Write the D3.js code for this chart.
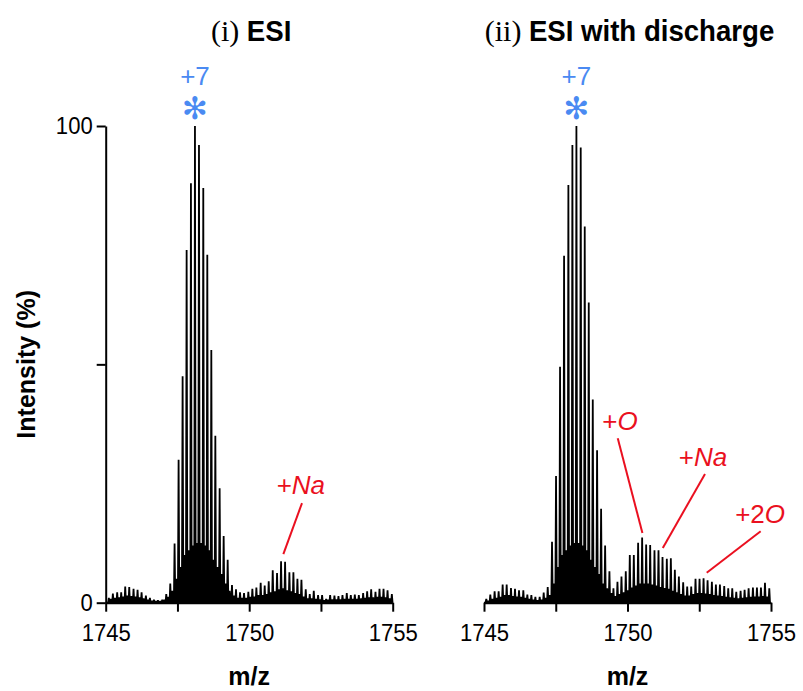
<!DOCTYPE html>
<html><head><meta charset="utf-8">
<script src="https://cdn.jsdelivr.net/npm/d3@7"></script>
<style>
html,body{margin:0;padding:0;background:#fff;}
svg{display:block;font-family:"Liberation Sans",Arial,Helvetica,sans-serif;}
</style></head><body>
<svg id="chart" width="803" height="691"></svg>
<script>
// ---------------- DATA ----------------
const panelPrefixes = ["(i)", "(ii)"];
const panelTitles = ["ESI", "ESI with discharge"];
const chargeLabel = "+7";
const peakMarker = "\u273B";
const xTicks = [1745, 1747.5, 1750, 1752.5, 1755];
const xTickLabels = ["1745", "", "1750", "", "1755"];
const yTicks = [0, 50, 100];
const yTickLabels = ["0", "", "100"];
const xTitle = "m/z";
const yTitle = "Intensity (%)";

// panel (i) ESI : m/z of isotope peaks (1/7 spacing) and the weaker peaks lying between them
const esiMz = [
1745.11,1745.18,1745.25,1745.32,1745.40,1745.47,1745.54,1745.61,1745.68,1745.75,1745.82,1745.90,1745.97,1746.04,
1746.11,1746.18,1746.25,1746.32,1746.40,1746.47,1746.54,1746.61,1746.68,1746.75,1746.82,1746.90,1746.97,1747.04,
1747.11,1747.18,1747.25,1747.32,1747.40,1747.47,1747.54,1747.61,1747.68,1747.75,1747.82,1747.90,1747.97,1748.04,
1748.11,1748.18,1748.25,1748.32,1748.40,1748.47,1748.54,1748.61,1748.68,1748.75,1748.82,1748.90,1748.97,1749.04,
1749.11,1749.18,1749.25,1749.32,1749.40,1749.47,1749.54,1749.61,1749.68,1749.75,1749.82,1749.90,1749.97,1750.04,
1750.11,1750.18,1750.25,1750.32,1750.40,1750.47,1750.54,1750.61,1750.68,1750.75,1750.82,1750.90,1750.97,1751.04,
1751.11,1751.18,1751.25,1751.32,1751.40,1751.47,1751.54,1751.61,1751.68,1751.75,1751.82,1751.90,1751.97,1752.04,
1752.11,1752.18,1752.25,1752.32,1752.40,1752.47,1752.54,1752.61,1752.68,1752.75,1752.82,1752.90,1752.97,1753.04,
1753.11,1753.18,1753.25,1753.32,1753.40,1753.47,1753.54,1753.61,1753.68,1753.75,1753.82,1753.90,1753.97,1754.04,
1754.11,1754.18,1754.25,1754.32,1754.40,1754.47,1754.54,1754.61,1754.68,1754.75,1754.82,1754.90,1754.97];
const esiIntensity = [
1.0,0.8, 1.9,1.0, 2.2,1.1, 2.2,1.3, 3.4,1.5, 3.3,1.4, 2.9,1.3, 2.7,1.1, 2.2,0.9, 1.5,0.6,
1.0,0.4, 0.6,0.3, 0.5,0.3, 0.6,0.6, 1.8,1.2, 4.0,2.5, 12.4,5, 30,7.5, 47.5,10, 74,11,
88,12, 100,12.5, 96,12.5, 87,12, 73,11, 53,9, 35,7.5, 24,6, 14,4, 9,2.5,
3.7,1.5, 2.8,1.0, 2.2,1.0, 2.0,1.0, 2.3,1.2, 2.9,1.3, 3.2,1.6, 4.2,1.6, 3.6,1.8, 4.5,2.2,
6.8,2.4, 6.2,2.8, 8.7,3.0, 8.6,2.6, 6.4,2.4, 6.4,2.0, 5.0,1.8, 4.8,1.3, 2.8,0.9, 1.8,0.9,
2.5,0.8, 1.6,0.7, 1.6,0.5, 0.8,0.6, 1.6,0.7, 1.5,0.7, 1.4,0.7, 1.6,0.8, 2.0,0.8, 1.6,0.8,
1.7,0.8, 1.6,0.9, 2.0,1.0, 2.4,1.1, 2.8,1.1, 2.3,1.2, 2.9,1.2, 2.9,1.1, 2.6,0.9, 1.8];

// panel (ii) ESI with discharge
const dischargeMz = [
1745.08,1745.15,1745.22,1745.29,1745.37,1745.44,1745.51,1745.58,1745.65,1745.72,1745.79,1745.87,1745.94,1746.01,
1746.08,1746.15,1746.22,1746.29,1746.37,1746.44,1746.51,1746.58,1746.65,1746.72,1746.79,1746.87,1746.94,1747.01,
1747.08,1747.15,1747.22,1747.29,1747.37,1747.44,1747.51,1747.58,1747.65,1747.72,1747.79,1747.87,1747.94,1748.01,
1748.08,1748.15,1748.22,1748.29,1748.37,1748.44,1748.51,1748.58,1748.65,1748.72,1748.79,1748.87,1748.94,1749.01,
1749.08,1749.15,1749.22,1749.29,1749.37,1749.44,1749.51,1749.58,1749.65,1749.72,1749.79,1749.87,1749.94,1750.01,
1750.08,1750.15,1750.22,1750.29,1750.37,1750.44,1750.51,1750.58,1750.65,1750.72,1750.79,1750.87,1750.94,1751.01,
1751.08,1751.15,1751.22,1751.29,1751.37,1751.44,1751.51,1751.58,1751.65,1751.72,1751.79,1751.87,1751.94,1752.01,
1752.08,1752.15,1752.22,1752.29,1752.37,1752.44,1752.51,1752.58,1752.65,1752.72,1752.79,1752.87,1752.94,1753.01,
1753.08,1753.15,1753.22,1753.29,1753.37,1753.44,1753.51,1753.58,1753.65,1753.72,1753.79,1753.87,1753.94,1754.01,
1754.08,1754.15,1754.22,1754.29,1754.37,1754.44,1754.51,1754.58,1754.65,1754.72,1754.79,1754.87,1754.94];
const dischargeIntensity = [
0.8,0.4, 1.7,0.8, 2.4,1.0, 2.4,1.2, 3.8,1.6, 3.8,1.6, 3.1,1.4, 2.9,1.3, 2.6,1.2, 2.6,1.0,
1.7,0.8, 1.6,0.6, 1.2,0.5, 1.2,0.6, 2.1,1.0, 3.3,1.6, 12.8,4, 26.6,7.5, 49.5,10, 72.8,11,
87.6,12, 96,12.5, 100,12.5, 95.5,12, 78.9,11, 63,9, 42.6,7.5, 32,6, 19.7,4, 12,3,
6.6,2.0, 3.0,1.4, 4.4,1.8, 5.5,2.2, 6.6,2.6, 10,3.2, 10,3.6, 12.6,4.0, 13.7,4.0, 12.2,4.0,
12.1,3.8, 11,3.6, 11,3.3, 9.6,3.1, 9.2,2.9, 9.3,2.5, 6.9,2.2, 5.5,1.8, 4.3,1.5, 3.4,1.5,
3.4,1.8, 5.0,2.0, 5.0,2.0, 5.1,1.9, 4.7,1.8, 4.4,1.6, 3.8,1.5, 3.8,1.4, 3.5,1.2, 3.0,1.1,
3.0,1.0, 2.3,0.9, 2.5,1.0, 2.7,1.1, 3.0,1.2, 3.2,1.3, 3.2,1.3, 3.2,1.4, 4.2,1.3, 3.0];

// annotation labels (red) for each panel
const esiAnnotations = [["+", "Na"]];
const dischargeAnnotations = [["+", "O"], ["+", "Na"], ["+2", "O"]];

// ---------------- LAYOUT / STYLE ----------------
const blue = "#4a8af2", red = "#ea1020";
const svg = d3.select("#chart");
const yScale = d3.scaleLinear().domain([0, 100]).range([602.7, 126]);
const panels = [
  {mz: esiMz, inten: esiIntensity, range: [105.7, 392.7], ann: esiAnnotations,
   annPos: [{text: [1751.80, 22.8], from: [1751.84, 20.9], to: [1751.19, 10.2]}]},
  {mz: dischargeMz, inten: dischargeIntensity, range: [484, 771], ann: dischargeAnnotations,
   annPos: [{text: [1749.74, 36.2], from: [1749.66, 34.5], to: [1750.52, 14.6]},
            {text: [1752.63, 28.6], from: [1752.70, 27.0], to: [1751.23, 11.5]},
            {text: [1754.62, 16.7], from: [1754.64, 15.0], to: [1752.76, 6.3]}]}
];
const spikeHalf = 0.025;
function condense(sel, f) {
  sel.each(function () { const l = this.getComputedTextLength(); if (l > 0) d3.select(this).attr("textLength", l * f).attr("lengthAdjust", "spacingAndGlyphs"); });
}

panels.forEach((p, pi) => {
  const x = d3.scaleLinear().domain([1745, 1755]).range(p.range);
  const g = svg.append("g");

  // spectrum trace
  const pts = [[1745, 0]];
  p.mz.forEach((m, i) => { pts.push([m - spikeHalf, 0], [m, p.inten[i]], [m + spikeHalf, 0]); });
  pts.push([1755, 0]);
  const line = d3.line().x(d => x(d[0])).y(d => yScale(d[1]));
  g.append("path").attr("d", line(pts)).attr("fill", "none").attr("stroke", "#000")
    .attr("stroke-width", 1.8).attr("stroke-linejoin", "miter").attr("stroke-miterlimit", 2);

  // x axis
  const xa = g.append("g").attr("transform", `translate(0,${yScale(0)})`)
    .call(d3.axisBottom(x).tickValues(xTicks).tickFormat((d, i) => xTickLabels[i]).tickSize(9).tickSizeOuter(0).tickPadding(12));
  xa.select(".domain").attr("stroke-width", 2);
  xa.selectAll(".tick line").attr("stroke-width", 2);
  xa.selectAll("text").attr("font-size", 24).attr("font-family", "Liberation Sans, Arial, sans-serif").attr("fill", "#000");
  condense(xa.selectAll("text"), 0.92);

  g.append("text").attr("x", (p.range[0] + p.range[1]) / 2).attr("y", 684.6)
    .attr("text-anchor", "middle").attr("font-size", 25).attr("font-weight", "bold").text(xTitle);

  // panel title
  const t = g.append("text").attr("x", (p.range[0] + p.range[1]) / 2 + 2).attr("y", 41)
    .attr("text-anchor", "middle").attr("font-size", 30);
  t.append("tspan").attr("font-family", "Liberation Serif, Times New Roman, serif").text(panelPrefixes[pi] + " ");
  condense(t.append("tspan").attr("font-weight", "bold").text(panelTitles[pi]), 0.92);

  // max peak marker: "+7" and an asterisk above the tallest peak
  const iMax = d3.maxIndex(p.inten);
  const xm = x(p.mz[iMax]);
  g.append("text").attr("x", xm).attr("y", 85).attr("text-anchor", "middle")
    .attr("font-size", 26).attr("fill", blue).text(chargeLabel);
  g.append("text").attr("x", xm).attr("y", 119).attr("text-anchor", "middle")
    .attr("font-family", "DejaVu Sans, sans-serif").attr("font-size", 31).attr("font-weight", "bold").attr("fill", blue).text(peakMarker);

  // red annotations
  p.ann.forEach((a, ai) => {
    const pos = p.annPos[ai];
    const tx = g.append("text").attr("x", x(pos.text[0])).attr("y", yScale(pos.text[1]))
      .attr("text-anchor", "middle").attr("font-size", 26).attr("fill", red);
    tx.append("tspan").text(a[0]);
    tx.append("tspan").attr("font-style", "italic").text(a[1]);
    g.append("line").attr("x1", x(pos.from[0])).attr("y1", yScale(pos.from[1]))
      .attr("x2", x(pos.to[0])).attr("y2", yScale(pos.to[1]))
      .attr("stroke", red).attr("stroke-width", 2);
  });

  if (pi === 0) {
    const ya = g.append("g").attr("transform", `translate(${p.range[0]},0)`)
      .call(d3.axisLeft(yScale).tickValues(yTicks).tickFormat((d, i) => yTickLabels[i]).tickSize(9).tickSizeOuter(0).tickPadding(4));
    ya.select(".domain").attr("stroke-width", 2);
    ya.selectAll(".tick line").attr("stroke-width", 2);
    ya.selectAll("text").attr("font-size", 24).attr("font-family", "Liberation Sans, Arial, sans-serif").attr("fill", "#000");
    condense(ya.selectAll("text"), 0.92);
    svg.append("text").attr("transform", `translate(35,${(yScale(0) + yScale(100)) / 2}) rotate(-90)`)
      .attr("text-anchor", "middle").attr("font-size", 25).attr("font-weight", "bold").text(yTitle);
  }
});
</script>
</body></html>
